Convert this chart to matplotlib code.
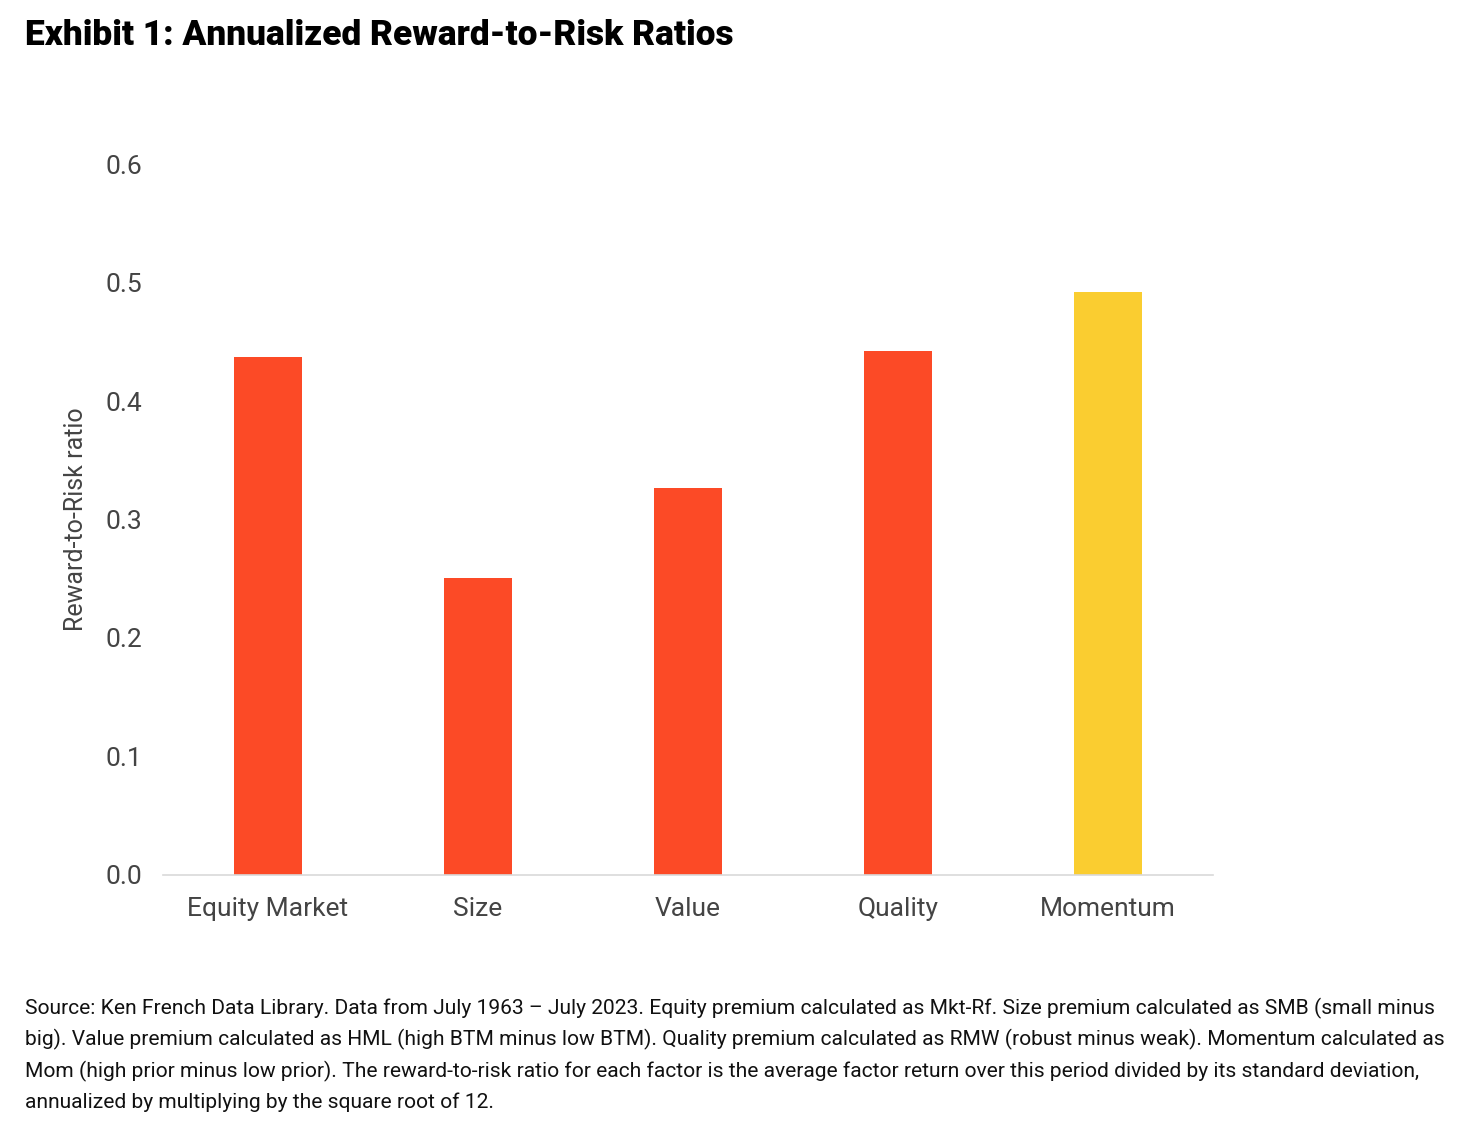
import matplotlib

matplotlib.use("Agg")
import matplotlib.pyplot as plt

CATEGORIES = ["Equity Market", "Size", "Value", "Quality", "Momentum"]
RATIOS = [0.437, 0.251, 0.327, 0.442, 0.492]
BAR_COLORS = ["#FC4A26", "#FC4A26", "#FC4A26", "#FC4A26", "#FACD30"]
YTICKS = [0.0, 0.1, 0.2, 0.3, 0.4, 0.5, 0.6]

TITLE = "Exhibit 1: Annualized Reward-to-Risk Ratios"
CAPTION = (
    "Source: Ken French Data Library. Data from July 1963 \u2013 July 2023. Equity premium calculated as Mkt-Rf. "
    "Size premium calculated as SMB (small minus\n"
    "big). Value premium calculated as HML (high BTM minus low BTM). Quality premium calculated as RMW "
    "(robust minus weak). Momentum calculated as\n"
    "Mom (high prior minus low prior). The reward-to-risk ratio for each factor is the average factor return "
    "over this period divided by its standard deviation,\n"
    "annualized by multiplying by the square root of 12."
)


def main() -> None:
    plt.rcParams.update({"font.family": ["Roboto", "DejaVu Sans"]})
    fig = plt.figure(figsize=(14.66, 11.36), dpi=100, facecolor="white")
    ax = fig.add_axes([0.1112, 0.2298, 0.7162, 0.6258])

    x = list(range(len(CATEGORIES)))
    ax.bar(x, RATIOS, width=0.32, color=BAR_COLORS, zorder=2)
    ax.set_xlim(-0.5, len(CATEGORIES) - 0.5)
    ax.set_ylim(0.0, 0.6)
    ax.set_yticks(YTICKS)
    ax.set_yticklabels([f"{t:.1f}" for t in YTICKS])
    ax.set_xticks(x)
    ax.set_xticklabels(CATEGORIES)
    ax.tick_params(axis="y", length=0, pad=15, labelsize=19, labelcolor="#444444")
    ax.tick_params(axis="x", length=0, pad=16, labelsize=19, labelcolor="#444444")
    for side in ("top", "right", "left"):
        ax.spines[side].set_visible(False)
    ax.spines["bottom"].set_color("#d9d9d9")
    ax.spines["bottom"].set_linewidth(1.2)
    ax.set_ylabel("Reward-to-Risk ratio", fontsize=18, color="#444444")
    ax.yaxis.set_label_coords(-0.0714, 0.5)

    fig.text(0.017, 0.969, TITLE, fontsize=25.4, fontweight="black", color="black", va="center", ha="left")
    fig.text(0.017, 0.122, CAPTION, fontsize=15.1, color="#111111", va="top", ha="left", linespacing=1.66)

    fig.savefig("out.png", dpi=100, facecolor="white")
    plt.close(fig)


if __name__ == "__main__":
    main()
